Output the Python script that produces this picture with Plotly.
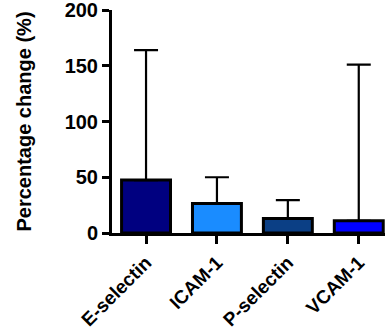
import plotly.graph_objects as go

categories = ["E-selectin", "ICAM-1", "P-selectin", "VCAM-1"]
means = [47.5, 26.5, 13.0, 11.0]
upper = [164.0, 50.0, 29.5, 151.0]
colors = ["#000080", "#1a8cff", "#0b3f85", "#0000ff"]
yticks = [0, 50, 100, 150, 200]

err = [u - m for u, m in zip(upper, means)]

font_family = "Arial, Liberation Sans, sans-serif"

fig = go.Figure(go.Bar(
    x=categories, y=means,
    marker=dict(color=colors, line=dict(color="black", width=3)),
    width=0.69,
    error_y=dict(type="data", array=err, arrayminus=[0]*4, symmetric=False,
                 color="black", thickness=2.2, width=12),
))

fig.update_layout(
    width=385, height=334,
    margin=dict(l=112, r=0, t=10, b=101),
    plot_bgcolor="white", paper_bgcolor="white",
    showlegend=False,
    font=dict(family=font_family, color="black"),
    xaxis=dict(
        range=[-0.48, 3.37], showline=True, linecolor="black", linewidth=3,
        ticks="outside", ticklen=8, tickwidth=3, tickcolor="black",
        tickangle=-45, tickfont=dict(size=19, weight="bold", family=font_family),
        showgrid=False, zeroline=False, automargin=False, ticklabeloverflow="allow",
    ),
    yaxis=dict(
        range=[0, 200], tickvals=yticks, showline=True, linecolor="black", linewidth=3,
        ticks="outside", ticklen=7, tickwidth=3, tickcolor="black",
        tickfont=dict(size=20, weight="bold", family=font_family),
        title=dict(text="Percentage change (%)", font=dict(size=20, weight="bold", family=font_family), standoff=28),
        showgrid=False, zeroline=False, automargin=False, ticklabeloverflow="allow",
    ),
)

fig.write_html("out.html")
